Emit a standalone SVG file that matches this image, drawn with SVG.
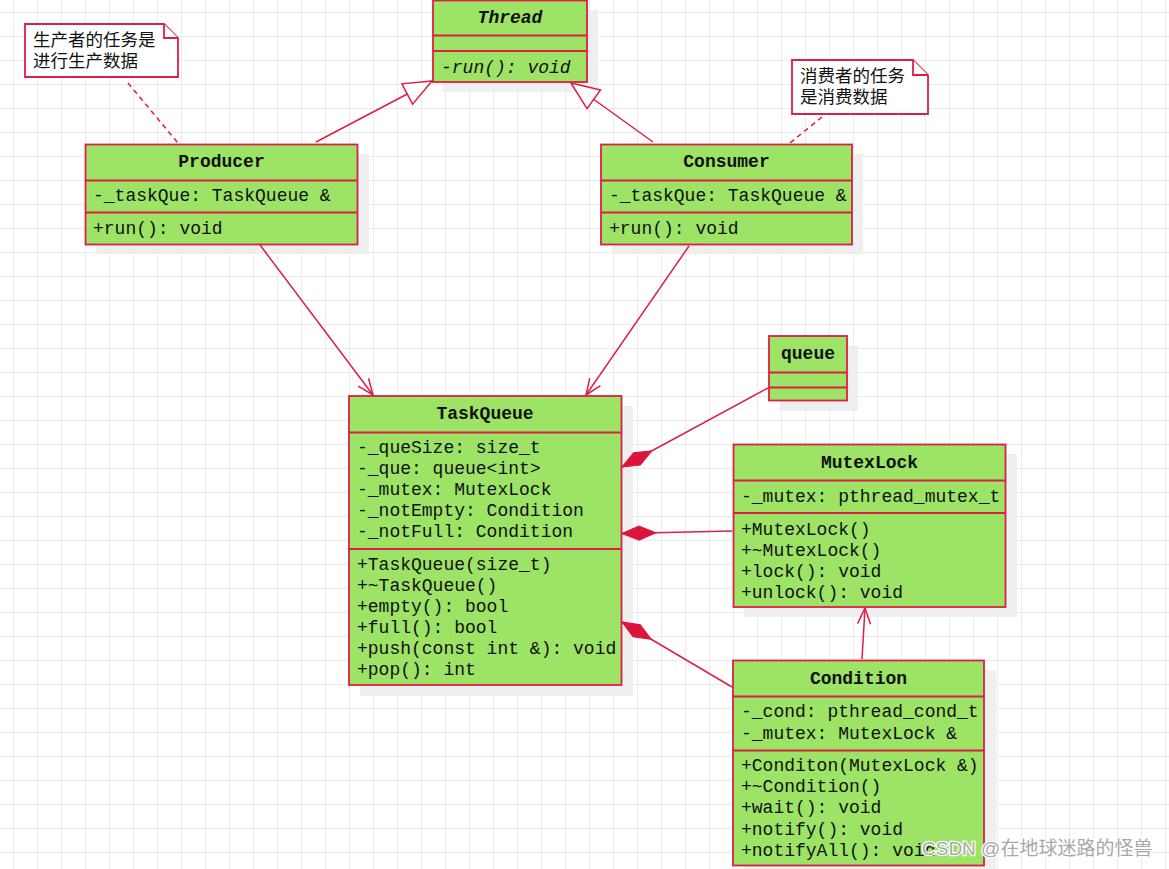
<svg xmlns="http://www.w3.org/2000/svg" width="1169" height="869" viewBox="0 0 1169 869">
<style>
.box{fill:#9ce366;stroke:#dc1f45;stroke-width:1.8}
.sep{stroke:#dc1f45;stroke-width:1.8}
.sh{fill:#efefef}
.note{fill:#fff;stroke:#dc1f45;stroke-width:1.8}
.t{font-family:"Liberation Mono","DejaVu Sans Mono",monospace;font-size:18px;fill:#111}
.b{font-weight:bold;text-anchor:middle}
.i{font-style:italic}
.cn{font-family:"Liberation Sans","Noto Sans CJK SC",sans-serif;font-size:17.5px;fill:#111}
.ln{fill:none;stroke:#dc1f45;stroke-width:1.5}
.dash{fill:none;stroke:#dc1f45;stroke-width:1.5;stroke-dasharray:5 4}
.wm{font-family:"Liberation Sans","Noto Sans CJK SC",sans-serif;font-size:19px;fill:#a8a8a8;stroke:#fff;stroke-width:2.5;paint-order:stroke}
</style>
<defs>
<pattern id="grid" width="24" height="24" patternUnits="userSpaceOnUse">
<rect x="13" y="0" width="1" height="24" fill="#ebebeb"/>
<rect x="0" y="12" width="24" height="1" fill="#ebebeb"/>
</pattern>
<marker id="open" markerUnits="userSpaceOnUse" markerWidth="40" markerHeight="40" refX="0" refY="0" orient="auto" overflow="visible">
<path d="M-16,-6.5 L0,0 L-16,6.5" fill="none" stroke="#dc1f45" stroke-width="1.5"/>
</marker>
<marker id="tri" markerUnits="userSpaceOnUse" markerWidth="40" markerHeight="40" refX="0" refY="0" orient="auto" overflow="visible">
<path d="M0,0 L-28,-11.5 L-28,11.5 Z" fill="#fff" stroke="#dc1f45" stroke-width="1.5"/>
</marker>
<marker id="dia" markerUnits="userSpaceOnUse" markerWidth="40" markerHeight="40" refX="0" refY="0" orient="auto" overflow="visible">
<path d="M0,0 L-17,-7 L-34,0 L-17,7 Z" fill="#dc143c" stroke="#dc143c" stroke-width="1"/>
</marker>
</defs>
<rect width="1169" height="869" fill="#fff"/>
<rect width="1169" height="869" fill="url(#grid)"/>

<g id="note1">
<path class="note" d="M25,24 H164 L178,38 V77 H25 Z"/>
<path class="note" d="M164,24 V38 H178" fill="none"/>
<text class="cn" x="33" y="46">生产者的任务是</text>
<text class="cn" x="33" y="67">进行生产数据</text>
</g>

<g id="note2">
<path class="note" d="M792,60 H913 L928,75 V114 H792 Z"/>
<path class="note" d="M913,60 V75 H928" fill="none"/>
<text class="cn" x="800" y="82">消费者的任务</text>
<text class="cn" x="800" y="103">是消费数据</text>
</g>

<g id="thread">
<rect class="sh" x="443" y="10" width="155" height="82"/>
<rect class="box" x="433" y="0.5" width="154" height="81.5"/>
<line class="sep" x1="433" y1="35.5" x2="587" y2="35.5"/>
<line class="sep" x1="433" y1="51" x2="587" y2="51"/>
<text class="t b i" x="510" y="23">Thread</text>
<text class="t i" x="441" y="73">-run(): void</text>
</g>

<g id="producer">
<rect class="sh" x="96" y="154" width="273" height="100"/>
<rect class="box" x="85.5" y="144.5" width="272" height="100"/>
<line class="sep" x1="85.5" y1="180.5" x2="357.5" y2="180.5"/>
<line class="sep" x1="85.5" y1="212.5" x2="357.5" y2="212.5"/>
<text class="t b" x="221.5" y="167">Producer</text>
<text class="t" x="93" y="201">-_taskQue: TaskQueue &amp;</text>
<text class="t" x="93" y="234">+run(): void</text>
</g>

<g id="consumer">
<rect class="sh" x="612" y="154" width="251" height="100"/>
<rect class="box" x="601" y="144.5" width="251" height="100"/>
<line class="sep" x1="601" y1="180.5" x2="852" y2="180.5"/>
<line class="sep" x1="601" y1="212.5" x2="852" y2="212.5"/>
<text class="t b" x="726.5" y="167">Consumer</text>
<text class="t" x="609" y="201">-_taskQue: TaskQueue &amp;</text>
<text class="t" x="609" y="234">+run(): void</text>
</g>

<g id="taskqueue">
<rect class="sh" x="360" y="406" width="273" height="290"/>
<rect class="box" x="349" y="396" width="272.5" height="289"/>
<line class="sep" x1="349" y1="432.5" x2="621.5" y2="432.5"/>
<line class="sep" x1="349" y1="549" x2="621.5" y2="549"/>
<text class="t b" x="485" y="419">TaskQueue</text>
<text class="t" x="357" y="453">-_queSize: size_t</text>
<text class="t" x="357" y="474">-_que: queue&lt;int&gt;</text>
<text class="t" x="357" y="495">-_mutex: MutexLock</text>
<text class="t" x="357" y="516">-_notEmpty: Condition</text>
<text class="t" x="357" y="537">-_notFull: Condition</text>
<text class="t" x="357" y="570">+TaskQueue(size_t)</text>
<text class="t" x="357" y="591">+~TaskQueue()</text>
<text class="t" x="357" y="612">+empty(): bool</text>
<text class="t" x="357" y="633">+full(): bool</text>
<text class="t" x="357" y="654">+push(const int &amp;): void</text>
<text class="t" x="357" y="675">+pop(): int</text>
</g>

<g id="queue">
<rect class="sh" x="780" y="346" width="78" height="65"/>
<rect class="box" x="769" y="336" width="78" height="64.5"/>
<line class="sep" x1="769" y1="372.5" x2="847" y2="372.5"/>
<line class="sep" x1="769" y1="387.5" x2="847" y2="387.5"/>
<text class="t b" x="808" y="359">queue</text>
</g>

<g id="mutexlock">
<rect class="sh" x="744" y="454" width="273" height="163"/>
<rect class="box" x="733.5" y="444.5" width="272" height="162.5"/>
<line class="sep" x1="733.5" y1="480.5" x2="1005.5" y2="480.5"/>
<line class="sep" x1="733.5" y1="513" x2="1005.5" y2="513"/>
<text class="t b" x="869.5" y="467.5">MutexLock</text>
<text class="t" x="741" y="501.5">-_mutex: pthread_mutex_t</text>
<text class="t" x="741" y="535">+MutexLock()</text>
<text class="t" x="741" y="556">+~MutexLock()</text>
<text class="t" x="741" y="577">+lock(): void</text>
<text class="t" x="741" y="597.5">+unlock(): void</text>
</g>

<g id="condition">
<rect class="sh" x="744" y="670" width="252" height="206"/>
<rect class="box" x="733" y="660.5" width="251" height="205"/>
<line class="sep" x1="733" y1="696.5" x2="984" y2="696.5"/>
<line class="sep" x1="733" y1="750.5" x2="984" y2="750.5"/>
<text class="t b" x="858.5" y="683.5">Condition</text>
<text class="t" x="741" y="717">-_cond: pthread_cond_t</text>
<text class="t" x="741" y="738.5">-_mutex: MutexLock &amp;</text>
<text class="t" x="741" y="771">+Conditon(MutexLock &amp;)</text>
<text class="t" x="741" y="792">+~Condition()</text>
<text class="t" x="741" y="813">+wait(): void</text>
<text class="t" x="741" y="834.5">+notify(): void</text>
<text class="t" x="741" y="855.5">+notifyAll(): void</text>
</g>

<g id="connectors">
<path class="ln" d="M316,142 L432,81" marker-end="url(#tri)"/>
<path class="ln" d="M653,142 L571,83" marker-end="url(#tri)"/>
<path class="ln" d="M260,245 L373,395" marker-end="url(#open)"/>
<path class="ln" d="M689,246 L586,395" marker-end="url(#open)"/>
<path class="ln" d="M768,388 L622,467" marker-end="url(#dia)"/>
<path class="ln" d="M732,531 L622,533.5" marker-end="url(#dia)"/>
<path class="ln" d="M732,687 L622,622" marker-end="url(#dia)"/>
<path class="ln" d="M862,659 L865,608" marker-end="url(#open)"/>
<path class="dash" d="M128,83 L178,143"/>
<path class="dash" d="M822,117 L790,143"/>
</g>

<text class="wm" x="922" y="855">CSDN @在地球迷路的怪兽</text>
</svg>
